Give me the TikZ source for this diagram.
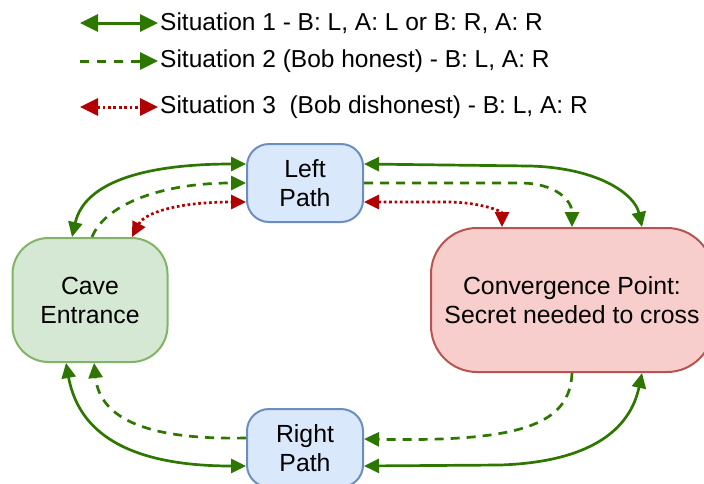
\documentclass[tikz,border=0pt]{standalone}
\usepackage{fontspec}
\setmainfont{Liberation Sans}
\usetikzlibrary{arrows.meta,calc}

\definecolor{edgegreen}{HTML}{2D7600}
\definecolor{edgered}{HTML}{B20000}
\definecolor{bluefill}{HTML}{DAE8FC}
\definecolor{bluedraw}{HTML}{6C8EBF}
\definecolor{greenfill}{HTML}{D5E8D4}
\definecolor{greendraw}{HTML}{82B366}
\definecolor{redfill}{HTML}{F8CECC}
\definecolor{reddraw}{HTML}{B85450}

\tikzset{
  box/.style={rectangle, line width=2pt, align=center, inner sep=0pt,
    font=\fontsize{24.8}{29}\selectfont},
  pathbox/.style={box, fill=bluefill, draw=bluedraw,
    minimum width=116pt, minimum height=78pt, rounded corners=22pt},
  cavebox/.style={box, fill=greenfill, draw=greendraw,
    minimum width=155pt, minimum height=124pt, rounded corners=36pt},
  convbox/.style={box, fill=redfill, draw=reddraw,
    minimum width=282pt, minimum height=144pt, rounded corners=46pt},
  blk/.tip={Triangle[length=15pt,width=14pt]},
  bigblk/.tip={Triangle[length=18pt,width=17pt]},
  sitone/.style={draw=edgegreen, line width=2.7pt, {blk}-{blk}},
  sittwo/.style={draw=edgegreen, line width=2.7pt, dash pattern=on 9pt off 7pt, -{blk}},
  sitthree/.style={draw=edgered, line width=2.7pt, dash pattern=on 2.7pt off 2.7pt, {blk}-{blk}},
  legtext/.style={anchor=west, inner sep=0pt, font=\fontsize{24.5}{28}\selectfont},
}

\begin{document}
\begin{tikzpicture}[x=1pt, y=-1pt]
\useasboundingbox (0,0) rectangle (704,483);

% legend
\coordinate (lga) at (80,23);  \coordinate (lgb) at (158,23);
\coordinate (lgc) at (80,61);  \coordinate (lgd) at (158,61);
\coordinate (lge) at (80,107); \coordinate (lgf) at (158,107);
\draw[sitone, line width=3pt, {bigblk}-{bigblk}] (lga) -- (lgb);
\draw[sittwo, line width=3pt, dash pattern=on 9pt off 8pt, -{bigblk}] (lgc) -- (lgd);
\draw[sitthree, line width=3pt, {bigblk}-{bigblk}] (lge) -- (lgf);
\node[legtext] (lt1) at (160,23) {Situation 1 - B: L, A: L or B: R, A: R};
\node[legtext] (lt2) at (160,61) {Situation 2 (Bob honest) - B: L, A: R};
\node[legtext] (lt3) at (160,107) {Situation 3~~(Bob dishonest) - B: L, A: R};

% places
\node[pathbox] (lp) at (305,183) {Left\\Path};
\node[pathbox] (rp) at (305,448) {Right\\Path};
\node[cavebox] (ce) at (90,300) {Cave\\Entrance};
\node[convbox] (cv) at (572,300) {Convergence Point:\\Secret needed to cross};

% upper route
\draw[sitone] ($(ce.north)+(-18,0)$) .. controls (85,180) and (150,164) .. ($(lp.west)+(0,-19)$);
\draw[sittwo] ($(ce.north)+(2,0)$) .. controls (105,205) and (160,183) .. (lp.west);
\draw[sitthree] ($(ce.north)+(42,0)$) .. controls (145,212) and (180,202) .. ($(lp.west)+(0,19)$);

\draw[sitone] ($(lp.east)+(0,-19)$) -- (530,166) .. controls (600,168) and (635,195) .. ($(cv.north)+(70,0)$);
\draw[sittwo] (lp.east) -- (520,183) .. controls (555,183) and (572,200) .. (cv.north);
\draw[sitthree] ($(lp.east)+(0,19)$) -- (450,202) .. controls (485,203) and (502,212) .. ($(cv.north)+(-70,0)$);

% lower route
\draw[sitone] ($(ce.south)+(-24,0)$) .. controls (80,440) and (140,466) .. ($(rp.west)+(0,18)$);
\draw[sittwo] ($(rp.west)+(0,-10)$) .. controls (150,440) and (100,420) .. ($(ce.south)+(4,0)$);

\draw[sitone] ($(rp.east)+(0,18)$) -- (500,465) .. controls (590,462) and (630,430) .. ($(cv.south)+(70,0)$);
\draw[sittwo] (cv.south) .. controls (570,425) and (520,442) .. ($(rp.east)+(0,-9)$);
\end{tikzpicture}
\end{document}
